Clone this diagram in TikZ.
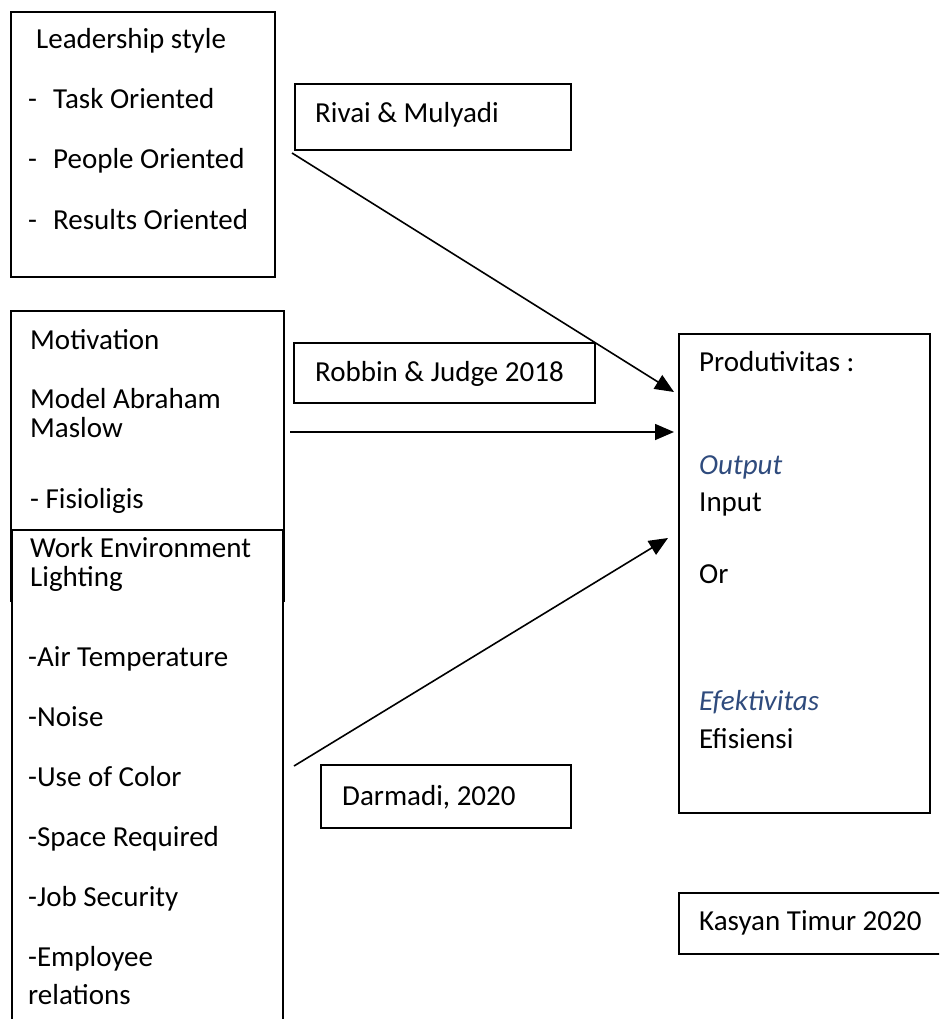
\documentclass[tikz,border=0pt]{standalone}
\usepackage{fontspec}
\setmainfont{Carlito}
\usetikzlibrary{arrows.meta}
\definecolor{eqblue}{RGB}{47,75,125}

\begin{document}
\begin{tikzpicture}[x=1pt,y=-1pt,font=\fontsize{29}{34}\selectfont,
  box/.style={draw,line width=1.6pt,anchor=north west,inner sep=0pt,fill=white},
  txt/.style={anchor=base west,inner sep=0pt},
  arr/.style={line width=1.6pt,-{Triangle[length=19pt,width=16pt]}}]
\clip (0,0) rectangle (939,1019);
\fill[white] (0,0) rectangle (939,1019);

\node[box,minimum width=264pt,minimum height=265pt] (lead) at (10,11) {};
\node[box,minimum width=276pt,minimum height=66pt] (rivai) at (294,83) {};
\node[box,minimum width=301pt,minimum height=60pt] (robbin) at (293,342) {};
\node[box,minimum width=273pt,minimum height=290pt] (motiv) at (10,310) {};
\node[box,minimum width=271pt,minimum height=520pt] (work) at (11,529) {};
\node[box,minimum width=251pt,minimum height=479pt] (prod) at (678,333) {};
\node[box,minimum width=250pt,minimum height=63pt] (darm) at (320,764) {};
\node[box,minimum width=290pt,minimum height=61pt] (kas) at (678,892) {};

\node[txt] (leadt) at (36,49) {Leadership style};
\foreach \t [count=\i] in {Task Oriented,People Oriented,Results Oriented}
  \node[txt] (lead\i) at (28,49+60*\i) {\makebox[25pt][l]{-}\t};

\node[txt] (rivait) at (315,123) {Rivai \& Mulyadi};
\node[txt] (robbint) at (315,381) {Robbin \& Judge 2018};
\node[txt] (darmt) at (342,805) {Darmadi, 2020};
\node[txt] (kast) at (699,930) {Kasyan Timur 2020};

\node[txt] (motiv1) at (30,349) {Motivation};
\node[txt] (motiv2) at (30,408) {Model Abraham};
\node[txt] (motiv3) at (30,437) {Maslow};
\node[txt] (motiv4) at (30,508) {- Fisioligis};

\node[txt] (work1) at (30,557) {Work Environment};
\node[txt] (work2) at (30,586) {Lighting};
\foreach \t [count=\i] in {-Air Temperature,-Noise,-Use of Color,-Space Required,-Job Security,-Employee}
  \node[txt] (work\i x) at (28,606+60*\i) {\t};
\node[txt] (work9) at (28,1004) {relations};

\node[txt] (prodt) at (699,371) {Produtivitas :};
\node[txt,text=eqblue] (out) at (699,474) {\itshape Output};
\node[txt] (inp) at (699,511) {Input};
\node[txt] (or) at (699,583) {Or};
\node[txt,text=eqblue] (efek) at (699,710) {\itshape Efektivitas};
\node[txt] (efis) at (699,748) {Efisiensi};

\coordinate (s1) at (292,153);
\coordinate (s2) at (290,432);
\coordinate (s3) at (294,766);
\coordinate (e1) at (674,392);
\coordinate (e2) at (674,432);
\coordinate (e3) at (668,538);

\draw[arr] (s1) -- (e1);
\draw[arr] (s2) -- (e2);
\draw[arr] (s3) -- (e3);
\end{tikzpicture}
\end{document}
